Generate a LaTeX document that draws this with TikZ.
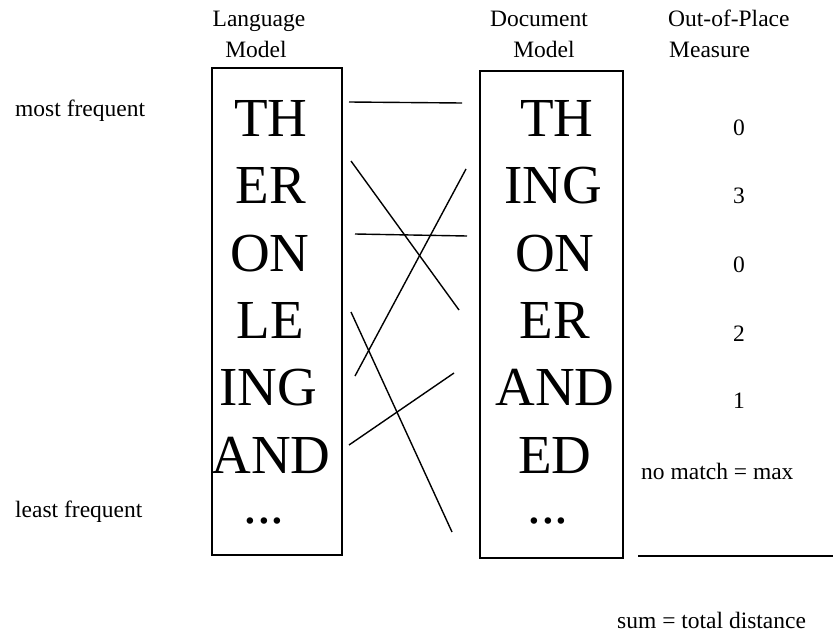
\documentclass[tikz,border=0pt]{standalone}
\usepackage{fontspec}
\setmainfont{Liberation Serif}
\begin{document}
\begin{tikzpicture}[x=1pt,y=-1pt,
  small/.style={font=\fontsize{23.5}{28}\selectfont, inner sep=0pt},
  big/.style={font=\fontsize{55}{60}\selectfont, inner sep=0pt, anchor=base},
  modelbox/.style={draw, line width=2pt},
  link/.style={line width=1.4pt}]
\useasboundingbox (0,0) rectangle (833,637);

% headings
\node[small, anchor=base] (lm1) at (259,27) {Language};
\node[small, anchor=base] (lm2) at (256,57) {Model};
\node[small, anchor=base] (dm1) at (539,27) {Document};
\node[small, anchor=base] (dm2) at (544,57) {Model};
\node[small, anchor=base west] (op1) at (668,27) {Out-of-Place};
\node[small, anchor=base west] (op2) at (669,57) {Measure};

% side labels
\node[small, anchor=base west] (mf) at (15,116) {most frequent};
\node[small, anchor=base west] (lf) at (15,517) {least frequent};

% boxes
\node[modelbox, minimum width=130pt, minimum height=487pt, inner sep=0pt, anchor=north west] (lbox) at (211,67) {};
\node[modelbox, minimum width=143pt, minimum height=487pt, inner sep=0pt, anchor=north west] (rbox) at (479,70) {};

% language model entries
\node[big] (l1) at (271,136) {TH};
\node[big] (l2) at (271,203) {ER};
\node[big] (l3) at (270,271) {ON};
\node[big] (l4) at (270,338) {LE};
\node[big] (l5) at (268,405) {ING};
\node[big] (l6) at (271,473) {AND};
\node[big] (l7) at (264,523) {...};

% document model entries
\node[big] (d1) at (557,136) {TH};
\node[big] (d2) at (553,203) {ING};
\node[big] (d3) at (555,271) {ON};
\node[big] (d4) at (555,338) {ER};
\node[big] (d5) at (555,405) {AND};
\node[big] (d6) at (555,473) {ED};
\node[big] (d7) at (548,523) {...};

% out-of-place values
\node[small, anchor=base] (v1) at (739,135) {0};
\node[small, anchor=base] (v2) at (739,203) {3};
\node[small, anchor=base] (v3) at (739,272) {0};
\node[small, anchor=base] (v4) at (739,341) {2};
\node[small, anchor=base] (v5) at (739,408) {1};
\node[small, anchor=base west] (nm) at (641,479) {no match = max};
\node[small, anchor=base west] (sum) at (617,628) {sum = total distance};

% connector end points
\coordinate (a1) at (349,102); \coordinate (b1) at (462,103);
\coordinate (a2) at (351,161); \coordinate (b2) at (459,310);
\coordinate (a3) at (355,376); \coordinate (b3) at (466,169);
\coordinate (a4) at (355,234); \coordinate (b4) at (467,236);
\coordinate (a5) at (351,312); \coordinate (b5) at (452,532);
\coordinate (a6) at (349,445); \coordinate (b6) at (454,373);
\draw[link] (a1) -- (b1);
\draw[link] (a2) -- (b2);
\draw[link] (a3) -- (b3);
\draw[link] (a4) -- (b4);
\draw[link] (a5) -- (b5);
\draw[link] (a6) -- (b6);

% sum line
\coordinate (s1) at (638,556); \coordinate (s2) at (833,556);
\draw[link] (s1) -- (s2);
\end{tikzpicture}
\end{document}
